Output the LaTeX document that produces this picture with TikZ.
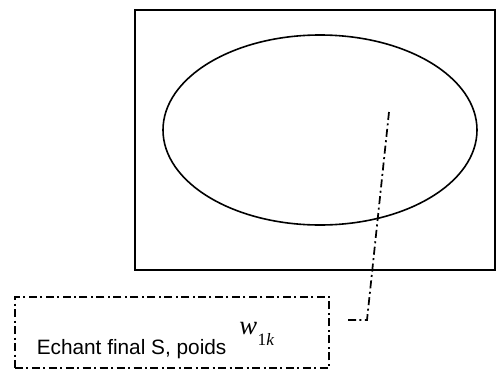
\documentclass[tikz,border=0pt]{standalone}
\usepackage{fontspec}
\setmainfont{Liberation Sans}
\newfontfamily\serifw{Liberation Serif}
\usetikzlibrary{shapes.geometric}
\tikzset{
  frameline/.style={draw=black, line width=1.4pt},
  dashdot/.style={draw=black, line width=1.3pt,
    dash pattern=on 6pt off 2.6pt on 1.5pt off 2.6pt},
}

\begin{document}
\begin{tikzpicture}[x=0.75pt, y=-0.75pt]
    \useasboundingbox (0,0) rectangle (497,372);
    % outer frame and population
    \node[frameline, rectangle, minimum width=270pt, minimum height=195pt, inner sep=0]
      (frame) at (315,140) {};
    \node[draw=black, line width=1.2pt, ellipse, minimum width=235.5pt, minimum height=142.5pt, inner sep=0]
      (pop) at (320,130) {};

    % final sample box
    \node[dashdot, rectangle, minimum width=235.5pt, minimum height=53.25pt, inner sep=0]
      (final) at (172,332.5) {};
    \node[anchor=base west, inner sep=0] (lbl) at (36.5,354.3)
      {\fontsize{15.6}{18}\selectfont Echant final S, poids};
    \node[anchor=base west, inner sep=0] (w) at (239,334.3)
      {\serifw\itshape\fontsize{20}{24}\selectfont w};
    \node[anchor=base west, inner sep=0] (sub) at (w.base east) [yshift=-8.5pt]
      {\serifw\fontsize{13}{15}\selectfont 1\itshape k};

    % pointer
    \coordinate (pin) at (389,112);
    \coordinate (bend) at (367,320);
    \coordinate (tip) at (348,320);
    \draw[dashdot] (pin) -- (bend) -- (tip);
\end{tikzpicture}
\end{document}
